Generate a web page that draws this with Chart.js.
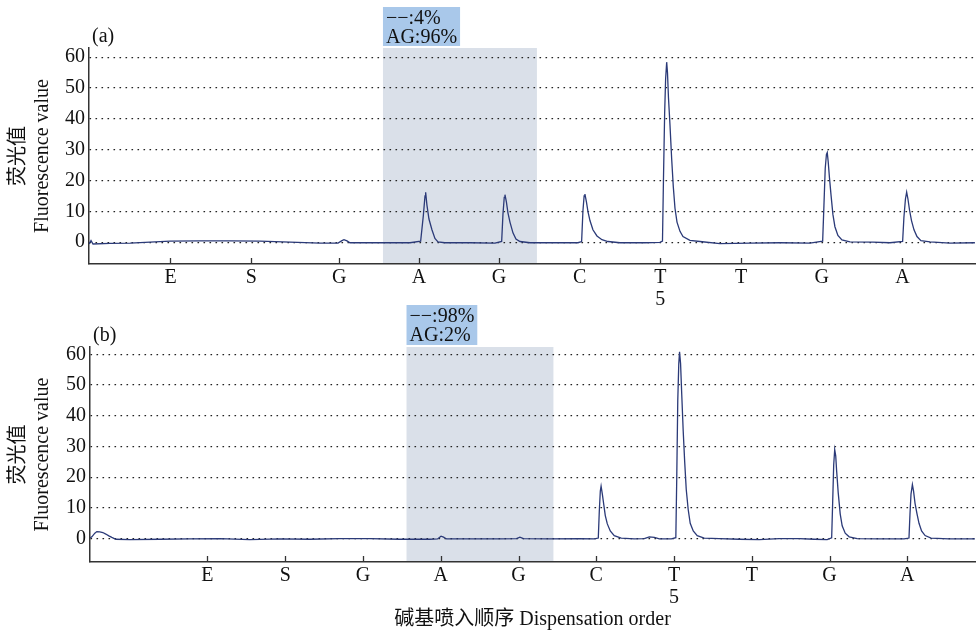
<!DOCTYPE html>
<html>
<head>
<meta charset="utf-8">
<script src="https://cdn.jsdelivr.net/npm/chart.js@4.4.1/dist/chart.umd.min.js"></script>
<style>
  body { margin: 0; background: #fff; }
  .wrap { position: relative; width: 977px; height: 632px; }
  canvas { display: block; position: absolute; left: 0; }
  #chartA { top: 0; }
  #chartB { top: 303px; }
</style>
</head>
<body>
<div class="wrap">
<canvas id="chartA" width="977" height="312"></canvas>
<canvas id="chartB" width="977" height="329"></canvas>
</div>
<script>
// pyrogram (a) and (b) - dispensation order vs fluorescence

const xLabels = ["E", "S", "G", "A", "G", "C", ["T", "5"], "T", "G", "A"];
const yTicks = [0, 10, 20, 30, 40, 50, 60];

// panel (a)
const aTicks = [1.01, 2.01, 3.10, 4.09, 5.08, 6.08, 7.08, 8.08, 9.08, 10.08];
const aBand = [3.643, 5.551];
const aBoxText = ["\u2212\u2212:4%", "AG:96%"];
const aX = [
  0, 0.025, 0.05, 0.26, 0.51, 0.756, 1.004, 1.375, 1.747, 2.119, 2.491, 2.862,
  3.086, 3.135, 3.160, 3.197, 3.234, 3.606, 3.978,
  4.110, 4.143, 4.164, 4.172, 4.188, 4.213, 4.250, 4.287, 4.325, 4.41, 4.721, 5.031,
  5.114, 5.130, 5.146, 5.155, 5.173, 5.192, 5.217, 5.254, 5.291, 5.341, 5.465, 5.836, 6.06,
  6.105, 6.121, 6.136, 6.146, 6.165, 6.183, 6.208, 6.245, 6.295, 6.357, 6.431, 6.580, 6.890, 7.075,
  7.107, 7.119, 7.134, 7.146, 7.159, 7.169, 7.181, 7.200, 7.221, 7.241, 7.262, 7.287, 7.324, 7.361, 7.447, 7.571,
  7.819, 8.191, 8.563, 8.935,
  9.092, 9.108, 9.124, 9.139, 9.149, 9.161, 9.176, 9.195, 9.219, 9.244, 9.281, 9.331, 9.430, 9.715, 9.926,
  10.083, 10.099, 10.118, 10.133, 10.149, 10.168, 10.193, 10.224, 10.261, 10.310, 10.422, 10.669, 10.979
];
const aY = [
  -0.6, 0.5, -0.6, -0.4, -0.3, 0, 0.3, 0.4, 0.4, 0.3, 0, -0.3,
  -0.3, 0.5, 0.8, 0.4, -0.2, -0.2, -0.2,
  0.3, 8.5, 15, 16.2, 12, 7.5, 4, 1.2, 0.1, -0.2, -0.2, -0.3,
  0.2, 9, 14.5, 15.4, 13, 9.5, 6.5, 3, 1, 0.2, -0.2, -0.2, -0.2,
  0.2, 10, 15, 15.6, 13, 10, 7, 4, 2, 0.8, 0.2, -0.2, -0.2, -0.1,
  0.3, 20, 42, 53, 58.4, 55, 47, 38, 27, 18, 11, 6.5, 3.5, 1.8, 0.6, 0.2,
  -0.5, -0.3, -0.2, -0.3,
  0.3, 12, 24, 28.5, 29.1, 26, 21, 15.5, 9, 5, 2.2, 0.7, 0.1, 0, -0.2,
  0.2, 8, 14, 16.2, 14, 10.5, 7, 4, 1.8, 0.5, 0.1, -0.3, -0.2
];

// panel (b)
const bTicks = [1, 2, 3, 4, 5, 6, 7, 8, 9, 10];
const bBand = [3.560, 5.449];
const bBoxText = ["\u2212\u2212:98%", "AG:2%"];
const bX = [
  -0.508, -0.486, -0.448, -0.422, -0.384, -0.345, -0.307, -0.268, -0.229, -0.178,
  0.002, 0.387, 0.773, 1.158, 1.543, 1.929, 2.314, 2.700, 3.085, 3.470, 3.856,
  3.959, 4.004, 4.036, 4.075, 4.370, 4.755, 4.974, 5.018, 5.063, 5.397, 5.782, 5.975,
  6.026, 6.039, 6.052, 6.062, 6.078, 6.097, 6.116, 6.142, 6.180, 6.231, 6.321, 6.488,
  6.618, 6.682, 6.747, 6.811, 6.965,
  7.023, 7.035, 7.048, 7.061, 7.071, 7.084, 7.099, 7.118, 7.137, 7.157, 7.182, 7.208, 7.247, 7.298, 7.388,
  7.581, 7.838, 8.095, 8.352, 8.609, 8.802, 8.969,
  9.027, 9.040, 9.053, 9.066, 9.079, 9.091, 9.111, 9.137, 9.162, 9.201, 9.252, 9.355, 9.637, 9.958,
  10.021, 10.034, 10.047, 10.065, 10.080, 10.099, 10.125, 10.150, 10.183, 10.228, 10.305, 10.536, 10.869
];
const bY = [
  0.2, 0.6, 1.8, 2.3, 2.2, 2.0, 1.5, 0.9, 0.4, -0.2,
  -0.3, -0.2, -0.1, 0, -0.3, -0.1, -0.2, 0, 0, -0.2, -0.2,
  -0.1, 0.8, 0.5, -0.1, -0.1, -0.1, 0, 0.5, 0, -0.1, 0, -0.1,
  0.2, 9, 15.5, 17.1, 14.5, 11, 7.5, 4.8, 2.5, 1.0, 0.2, -0.1,
  0, 0.6, 0.4, -0.1, -0.1,
  0.3, 20, 45, 57, 60.8, 57, 47, 35, 25, 16, 9.5, 5, 2.5, 1.0, 0.2,
  0, -0.2, -0.3, 0, 0, -0.2, -0.3,
  0.3, 12, 24, 29, 27, 22, 15, 8, 4.2, 1.8, 0.6, 0, -0.1, -0.1,
  0.2, 8, 14.5, 17.6, 15.5, 11.5, 8, 5, 2.5, 1.0, 0.2, -0.1, -0.1
];

const FONT = '"Liberation Serif", "Noto Sans CJK SC", serif';
Chart.defaults.font.family = FONT;
Chart.defaults.font.size = 20;
Chart.defaults.color = "#111";

// shaded band, percentage box, panel tag, inner x ticks
function makeDeco(p) {
  return {
    id: "deco",
    beforeDraw(chart) {
      const { ctx, chartArea, scales: { x } } = chart;
      const x1 = x.getPixelForValue(p.band[0]);
      const x2 = x.getPixelForValue(p.band[1]);
      ctx.save();
      ctx.fillStyle = "#dae0e9";
      ctx.fillRect(x1, chartArea.top, x2 - x1, chartArea.bottom - chartArea.top);
      ctx.font = "20px " + FONT;
      const w = Math.max(...p.boxText.map(t => ctx.measureText(t).width)) + 6;
      ctx.fillStyle = "#a9c8ea";
      ctx.fillRect(x1, p.boxTop, w, chartArea.top - 2 - p.boxTop);
      ctx.fillStyle = "#111";
      ctx.textBaseline = "alphabetic";
      p.boxText.forEach((t, i) => ctx.fillText(t, x1 + 3, p.boxTop + 17 + i * 19));
      ctx.fillText(p.tag, chartArea.left + 3, p.tagY);
      ctx.restore();
    },
    afterDraw(chart) {
      const { ctx, chartArea, scales: { x } } = chart;
      ctx.save();
      ctx.strokeStyle = "#333";
      ctx.lineWidth = 1.3;
      x.ticks.forEach(t => {
        const px = Math.round(x.getPixelForValue(t.value)) + 0.5;
        ctx.beginPath();
        ctx.moveTo(px, chartArea.bottom);
        ctx.lineTo(px, chartArea.bottom - 6);
        ctx.stroke();
      });
      ctx.restore();
    }
  };
}

function makePanel(id, p) {
  const points = p.xs.map((v, i) => ({ x: v, y: p.ys[i] }));
  return new Chart(document.getElementById(id), {
    type: "scatter",
    data: {
      datasets: [{
        data: points,
        showLine: true,
        borderColor: "#2b3a78",
        borderWidth: 1.3,
        pointRadius: 0,
        tension: 0
      }]
    },
    options: {
      responsive: false,
      animation: false,
      devicePixelRatio: 1,
      layout: { padding: { top: p.top, right: 2, left: 0, bottom: p.bottom || 0 } },
      plugins: { legend: { display: false }, tooltip: { enabled: false } },
      scales: {
        x: {
          type: "linear",
          min: p.xMin,
          max: p.xMax,
          afterBuildTicks: s => { s.ticks = p.ticks.map(v => ({ value: v })); },
          afterFit: s => { s.height = p.xHeight; },
          grid: { display: false },
          border: { display: true, color: "#333", width: 1.5 },
          ticks: {
            autoSkip: false,
            maxRotation: 0,
            padding: -5,
            font: { size: 20, lineHeight: 1.1 },
            callback: (v, i) => xLabels[i]
          },
          title: {
            display: !!p.xTitle,
            text: p.xTitle || "",
            font: { size: 20, lineHeight: 1.2 },
            padding: { top: 0, bottom: 0 }
          }
        },
        y: {
          min: p.yMin,
          max: p.yMax,
          afterBuildTicks: s => { s.ticks = yTicks.map(v => ({ value: v })); },
          afterFit: s => { s.width = p.yWidth; },
          grid: { color: "#222", lineWidth: 1.2, drawTicks: false },
          border: { display: true, color: "#333", width: 1.5, dash: [1.6, 4.4] },
          ticks: { padding: 4, font: { size: 20 } },
          title: {
            display: true,
            text: ["荧光值", "Fluorescence value"],
            font: { size: 20, lineHeight: 1.2 },
            padding: { top: 7, bottom: 0 }
          }
        }
      }
    },
    plugins: [makeDeco(p)]
  });
}

makePanel("chartA", {
  xs: aX, ys: aY, ticks: aTicks, band: aBand, boxText: aBoxText,
  xMin: 0, xMax: 10.98, yMin: -7.1, yMax: 63,
  top: 48, xHeight: 48, yWidth: 89, boxTop: 7, tag: "(a)", tagY: 42
});

makePanel("chartB", {
  xs: bX, ys: bY, ticks: bTicks, band: bBand, boxText: bBoxText,
  xMin: -0.51, xMax: 10.87, yMin: -7.6, yMax: 62.4,
  top: 44, xHeight: 70, yWidth: 90, boxTop: 2, tag: "(b)", tagY: 38,
  xTitle: "碱基喷入顺序 Dispensation order"
});
</script>
</body>
</html>
